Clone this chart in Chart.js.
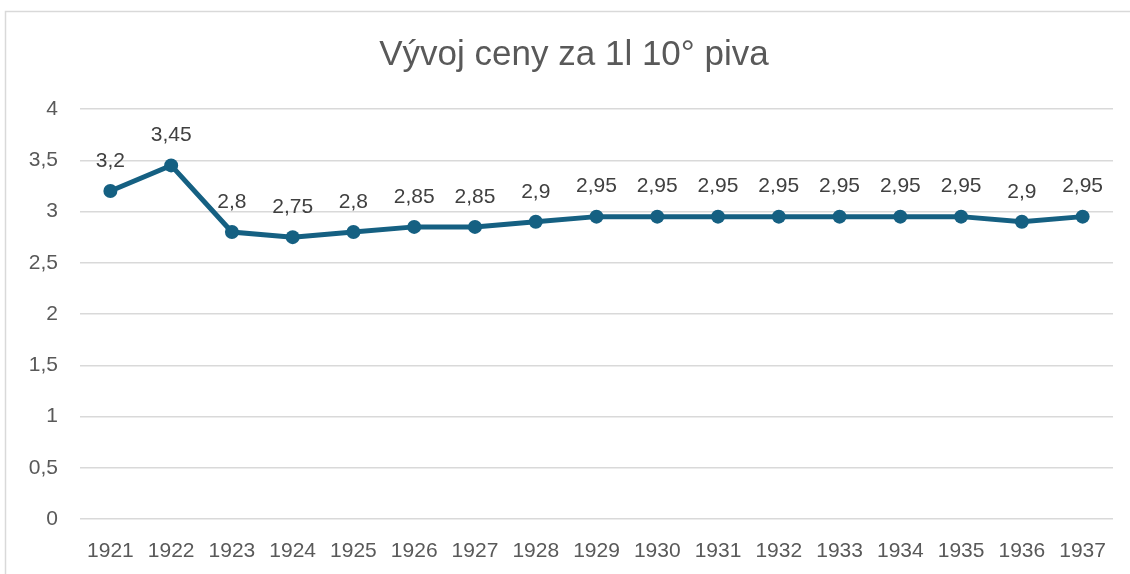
<!DOCTYPE html>
<html>
<head>
<meta charset="utf-8">
<script src="https://cdn.jsdelivr.net/npm/chart.js@4"></script>
<style>
  html, body { margin: 0; padding: 0; background: #fff; }
  #wrap { width: 1130px; height: 574px; position: relative; }
</style>
</head>
<body>
<div id="wrap"><canvas id="myChart" width="1130" height="574"></canvas></div>
<script>
const years = ['1921', '1922', '1923', '1924', '1925', '1926', '1927', '1928', '1929',
  '1930', '1931', '1932', '1933', '1934', '1935', '1936', '1937'];
const prices = [3.2, 3.45, 2.8, 2.75, 2.8, 2.85, 2.85, 2.9, 2.95,
  2.95, 2.95, 2.95, 2.95, 2.95, 2.95, 2.9, 2.95];
const yTicks = [0, 0.5, 1, 1.5, 2, 2.5, 3, 3.5, 4];
const chartTitle = 'Vývoj ceny za 1l 10° piva';

const fmt = v => String(v).replace('.', ',');
const textColor = '#595959';
const lineColor = '#156082';
const fontFamily = '"Liberation Sans", Arial, sans-serif';

// Excel-like chart frame (left and top edges are visible) and the title,
// centred on the frame rather than on the plot
const framePlugin = {
  id: 'frame',
  beforeDraw(chart) {
    const c = chart.ctx;
    c.save();
    c.strokeStyle = '#d9d9d9';
    c.lineWidth = 1.5;
    c.strokeRect(5.5, 11.5, 1140, 580);
    c.font = '35px ' + fontFamily;
    c.fillStyle = textColor;
    c.textAlign = 'center';
    c.textBaseline = 'middle';
    c.fillText(chartTitle, 574, 55);
    c.restore();
  }
};

// value labels above each point
const labelPlugin = {
  id: 'valueLabels',
  afterDatasetsDraw(chart) {
    const c = chart.ctx;
    const meta = chart.getDatasetMeta(0);
    c.save();
    c.font = '21px ' + fontFamily;
    c.fillStyle = '#404040';
    c.textAlign = 'center';
    c.textBaseline = 'middle';
    meta.data.forEach((pt, i) => {
      c.fillText(fmt(prices[i]), pt.x, pt.y - 30);
    });
    c.restore();
  }
};

const ctx = document.getElementById('myChart');

new Chart(ctx, {
  type: 'line',
  data: {
    labels: years,
    datasets: [{
      label: 'Cena',
      data: prices,
      borderColor: lineColor,
      backgroundColor: lineColor,
      borderWidth: 5,
      pointRadius: 7,
      pointHoverRadius: 7,
      pointBorderWidth: 0,
      tension: 0
    }]
  },
  options: {
    responsive: false,
    animation: false,
    layout: { padding: { left: 0, right: 17, top: 109, bottom: 0 } },
    plugins: {
      legend: { display: false },
      tooltip: { enabled: false },
      title: { display: false }
    },
    scales: {
      x: {
        offset: true,
        grid: { display: false },
        border: { display: false },
        ticks: {
          color: textColor,
          font: { family: fontFamily, size: 21 },
          padding: 12,
          maxRotation: 0,
          autoSkip: false
        },
        afterFit(scale) { scale.height = 55; }
      },
      y: {
        min: 0,
        max: 4,
        afterBuildTicks(scale) { scale.ticks = yTicks.map(v => ({ value: v })); },
        grid: { color: '#d9d9d9', lineWidth: 1.5, drawTicks: false },
        border: { display: false },
        ticks: {
          color: textColor,
          font: { family: fontFamily, size: 21 },
          padding: 22,
          callback: v => fmt(v)
        },
        afterFit(scale) { scale.width = 80; }
      }
    }
  },
  plugins: [framePlugin, labelPlugin]
});
</script>
</body>
</html>
